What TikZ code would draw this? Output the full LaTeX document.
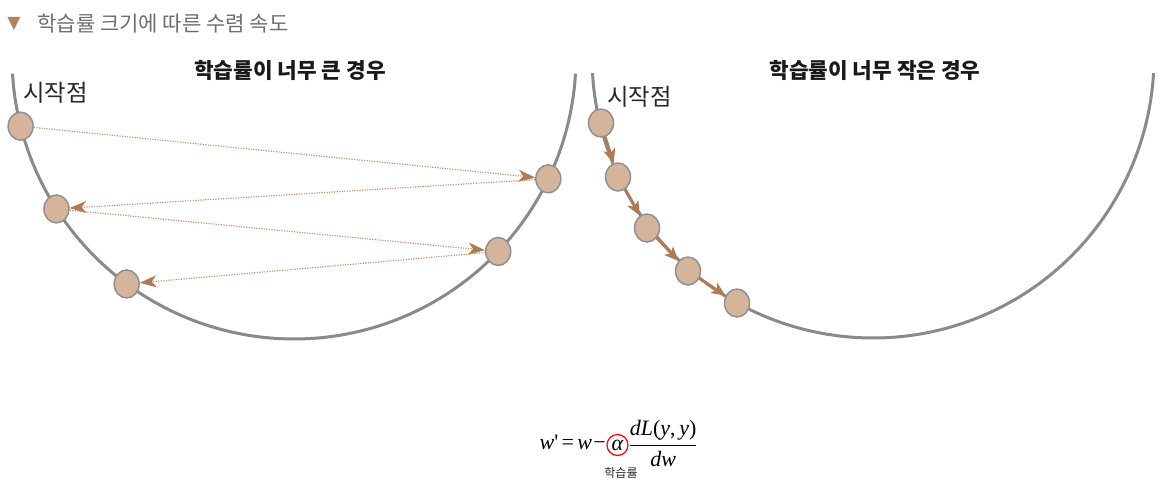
\documentclass[tikz,border=0pt]{standalone}
\usepackage{fontspec}
\usetikzlibrary{shapes.geometric,arrows.meta}
\newfontfamily\kr{Noto Sans CJK KR}
\newfontfamily\tms{Liberation Serif}
\newfontfamily\dvs{DejaVu Sans}
\definecolor{arcgray}{HTML}{8A8A8A}
\definecolor{ballfill}{HTML}{D4B59C}
\definecolor{ballline}{HTML}{8F8F8F}
\definecolor{dotline}{HTML}{C8926E}
\definecolor{arrbrown}{HTML}{B07A52}
\definecolor{titlegray}{HTML}{6E6E6E}
\definecolor{tri}{HTML}{B3835F}
\begin{document}
\begin{tikzpicture}[x=0.75pt,y=-0.75pt,
 ball/.style={ellipse, draw=ballline, fill=ballfill, line width=1.1pt, minimum width=18.75pt, minimum height=21pt, inner sep=0pt},
 curve/.style={draw=arcgray, line width=2.25pt},
 jump/.style={draw=dotline, line width=0.9pt, densely dotted, -{Stealth[length=12.5pt,width=9pt,inset=3.5pt,color=arrbrown]}},
 creep/.style={draw=arrbrown, line width=1.9pt, -{Stealth[length=10.5pt,width=9pt,inset=2.5pt]}},
 heading/.style={font=\kr\bfseries\fontsize{16}{18}\selectfont, text=black!90},
 startlbl/.style={font=\kr\fontsize{17.5}{19}\selectfont, text=black!85, anchor=west, inner sep=0pt},
 frm/.style={font=\tms\fontsize{16.5}{19}\selectfont, inner sep=0pt}]
\useasboundingbox (0,0) rectangle (1169,496);

% title
\node[font=\dvs\fontsize{13}{13}\selectfont, text=tri, inner sep=0pt] (tri) at (14,24) {▼};
\node[font=\kr\fontsize{15.8}{17}\selectfont, text=titlegray, anchor=west, inner sep=0pt] (title) at (37,24) {학습률 크기에 따른 수렴 속도};

% left panel
\draw[curve] plot[domain=176.6:3.4, samples=90, smooth] ({294+282*cos(\x)},{57+282*sin(\x)});
\node[heading] (headL) at (290,70) {학습률이 너무 큰 경우};
\node[startlbl] (startL) at (23,93) {시작점};
\node[ball] (L1) at ({294+282*cos(165.8)},{57+282*sin(165.8)}) {};
\node[ball] (L2) at ({294+282*cos(25.6)},{57+282*sin(25.6)}) {};
\node[ball] (L3) at ({294+282*cos(147.4)},{57+282*sin(147.4)}) {};
\node[ball] (L4) at ({294+282*cos(43.6)},{57+282*sin(43.6)}) {};
\node[ball] (L5) at ({294+282*cos(126.4)},{57+282*sin(126.4)}) {};
\draw[jump] (L1) -- (L2);
\draw[jump] (L2) -- (L3);
\draw[jump] (L3) -- (L4);
\draw[jump] (L4) -- (L5);

% right panel
\draw[curve] plot[domain=176.7:3.3, samples=90, smooth] ({873+281*cos(\x)},{57+281*sin(\x)});
\node[heading] (headR) at (875,70) {학습률이 너무 작은 경우};
\node[startlbl] (startR) at (607,97) {시작점};
\node[ball] (R1) at (601,123) {};
\node[ball] (R2) at (618,177) {};
\node[ball] (R3) at (647,228) {};
\node[ball] (R4) at (688,271) {};
\node[ball] (R5) at (737,303) {};
\draw[creep] (R1) -- (R2);
\draw[creep] (R2) -- (R3);
\draw[creep] (R3) -- (R4);
\draw[creep] (R4) -- (R5);

% formula
\node[frm, anchor=base east] (lhs) at (606,449) {\itshape w\upshape'\kern2.5pt=\kern2.5pt\itshape w\upshape\kern1pt−};
\node[circle, draw=red, line width=0.9pt, minimum size=15.75pt, inner sep=0pt, font=\tms\itshape\fontsize{16.5}{19}\selectfont] (alpha) at (617.5,445) {α};
\node[frm, anchor=base west] (frac) at (628,451) {$\displaystyle\frac{\mbox{\itshape dL\/\upshape(\itshape y\upshape,\,\itshape y\upshape)}\vphantom{\rule[-3pt]{0pt}{1pt}}}{\mbox{\itshape dw}\rule{0pt}{14pt}}$};
\node[font=\kr\fontsize{9}{10}\selectfont, text=black!85, inner sep=0pt] (lr) at (621,473) {학습률};
\end{tikzpicture}
\end{document}
